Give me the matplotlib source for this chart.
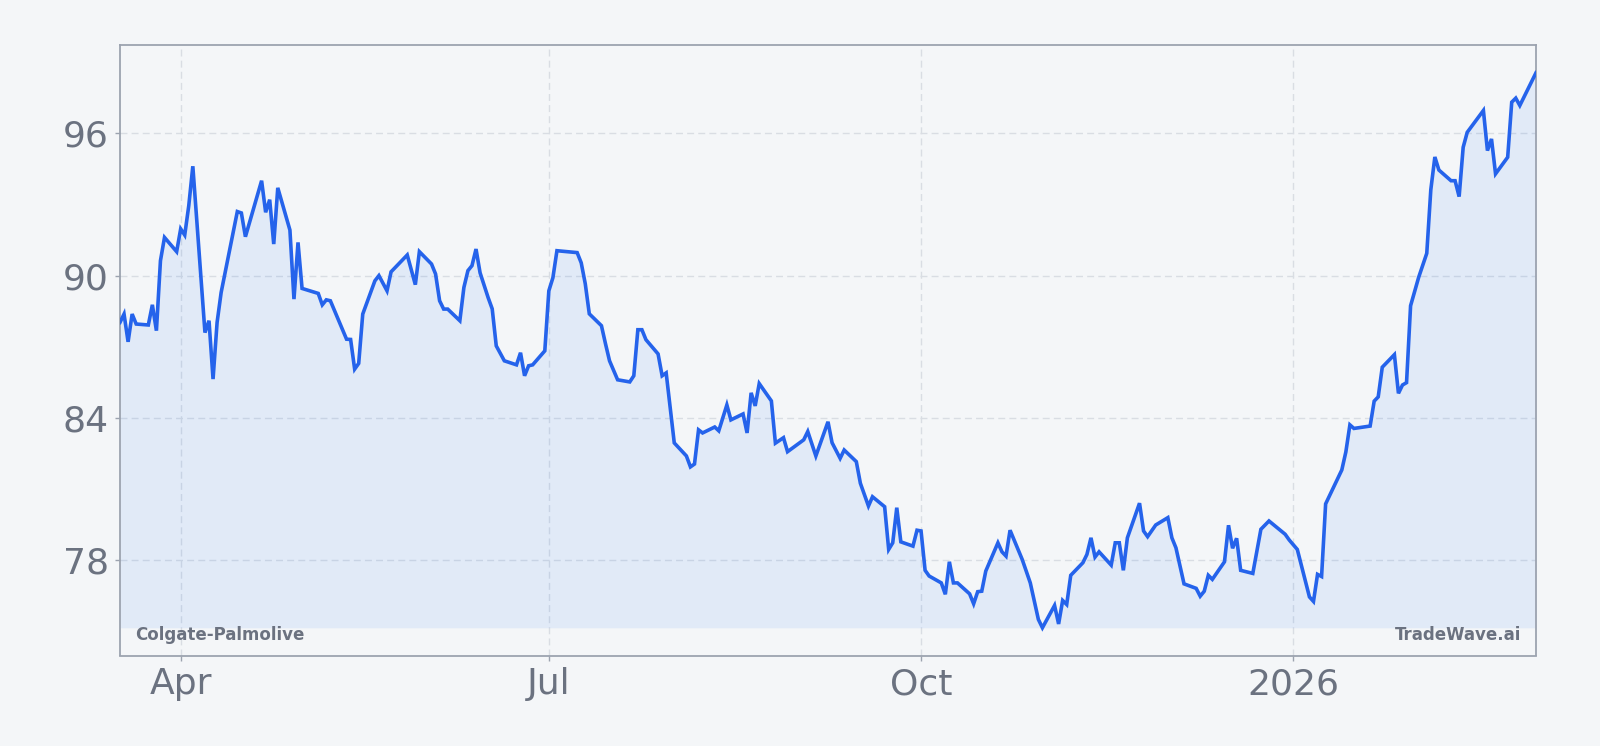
import matplotlib
matplotlib.use("Agg")
import matplotlib.pyplot as plt
import pandas as pd

# ---- data ----
base_date = "2025-04-01"
days_from_base = [
    -15, -14, -13, -12, -11, -8, -7, -6, -5, -4, -1, 0, 1, 2, 3, 6, 7, 8, 9, 10,
    14, 15, 16, 20, 21, 22, 23, 24, 27, 28, 29, 30, 34, 35, 36, 37, 41, 42, 43, 44,
    45, 48, 49, 51, 52, 56, 58, 59, 62, 63, 64, 65, 66, 69, 70, 71, 72, 73, 74, 76,
    77, 78, 80, 83, 84, 85, 86, 87, 90, 91, 92, 93, 98, 99, 100, 101, 104, 105, 106, 108,
    111, 112, 113, 114, 115, 118, 119, 120, 122, 125, 126, 127, 128, 129, 132, 133, 135, 136, 139, 140,
    141, 142, 143, 146, 147, 149, 150, 154, 155, 157, 160, 161, 163, 164, 167, 168, 170, 171, 174, 175,
    176, 177, 178, 181, 182, 183, 184, 185, 188, 189, 190, 191, 192, 195, 196, 197, 198, 199, 202, 203,
    204, 205, 208, 210, 212, 213, 216, 217, 218, 219, 220, 223, 224, 225, 226, 227, 230, 231, 232, 233,
    234, 237, 238, 239, 241, 244, 245, 246, 248, 251, 252, 253, 254, 255, 258, 259, 260, 261, 262, 265,
    267, 269, 273, 274, 276, 279, 280, 281, 282, 283, 287, 288, 289, 290, 294, 295, 296, 297, 300, 301,
    302, 303, 304, 306, 308, 309, 310, 311, 314, 315, 316, 317, 318, 322, 323, 324, 325, 328, 329, 330,
    331, 335,
]
prices = [
    88.03, 88.38, 87.21, 88.38, 87.96, 87.92, 88.77, 87.68, 90.63, 91.61, 91.01, 91.97, 91.71, 92.95, 94.61, 87.60, 88.10, 85.64, 88.03, 89.29,
    92.70, 92.64, 91.64, 94.00, 92.67, 93.20, 91.33, 93.70, 91.92, 89.01, 91.40, 89.46, 89.25, 88.77, 88.98, 88.94, 87.32, 87.31, 86.06, 86.30,
    88.38, 89.78, 90.00, 89.36, 90.16, 90.87, 89.62, 91.01, 90.49, 90.07, 88.94, 88.59, 88.59, 88.10, 89.50, 90.21, 90.42, 91.12, 90.12, 89.07,
    88.60, 87.04, 86.41, 86.24, 86.75, 85.78, 86.20, 86.24, 86.83, 89.36, 89.91, 91.05, 90.97, 90.54, 89.66, 88.39, 87.89, 87.13, 86.41, 85.61,
    85.52, 85.78, 87.72, 87.72, 87.30, 86.70, 85.78, 85.90, 82.95, 82.40, 81.94, 82.06, 83.50, 83.37, 83.62, 83.46, 84.55, 83.92, 84.17, 83.37,
    85.06, 84.51, 85.45, 84.72, 82.94, 83.17, 82.58, 83.08, 83.43, 82.40, 83.84, 82.96, 82.30, 82.65, 82.16, 81.25, 80.29, 80.68, 80.26, 78.46,
    78.74, 80.22, 78.78, 78.60, 79.27, 79.24, 77.58, 77.34, 77.05, 76.57, 77.94, 77.05, 77.05, 76.59, 76.17, 76.68, 76.70, 77.55, 78.74, 78.36,
    78.18, 79.27, 78.04, 77.05, 75.51, 75.16, 76.10, 75.32, 76.31, 76.14, 77.37, 77.90, 78.25, 78.95, 78.14, 78.36, 77.80, 78.74, 78.74, 77.58,
    78.95, 80.41, 79.24, 79.00, 79.49, 79.80, 78.95, 78.53, 77.01, 76.82, 76.49, 76.70, 77.37, 77.20, 77.94, 79.48, 78.51, 78.93, 77.58, 77.45,
    79.31, 79.66, 79.10, 78.86, 78.46, 76.46, 76.27, 77.41, 77.32, 80.38, 81.81, 82.57, 83.71, 83.56, 83.66, 84.71, 84.89, 86.14, 86.67, 85.04,
    85.39, 85.49, 88.73, 89.93, 90.94, 93.62, 95.00, 94.45, 94.00, 94.00, 93.33, 95.41, 96.04, 96.96, 95.27, 95.76, 94.29, 94.99, 97.31, 97.48,
    97.17, 98.55,
]
x_tick_dates = ["2025-04-01", "2025-07-01", "2025-10-01", "2026-01-01"]
x_tick_labels = ["Apr", "Jul", "Oct", "2026"]
y_ticks = [78, 84, 90, 96]
left_note = "Colgate-Palmolive"
right_note = "TradeWave.ai"

# ---- style ----
BG = "#f4f6f8"
LINE = "#2563eb"
FILL = "#3b82f6"
TEXT = "#6b7280"
SPINE = "#9ca3af"
GRID = "#d9dde3"

dates = pd.Timestamp(base_date) + pd.to_timedelta(days_from_base, unit="D")

fig = plt.figure(figsize=(16, 7.46), dpi=100, facecolor=BG)
ax = fig.add_axes([120 / 1600, 1 - 655.5 / 746, (1536 - 120) / 1600, (655.5 - 45) / 746])
ax.set_facecolor(BG)

pmin, pmax = min(prices), max(prices)
ax.fill_between(dates, prices, pmin, color=FILL, alpha=0.1, lw=0, zorder=2)
ax.plot(dates, prices, color=LINE, lw=2.6, zorder=3, solid_joinstyle="miter")

ax.set_xlim(dates[0], dates[-1])
rng = pmax - pmin
ax.set_ylim(pmin - 0.05 * rng, pmax + 0.05 * rng)

ax.set_yticks(y_ticks)
ax.set_xticks(pd.to_datetime(x_tick_dates))
ax.set_xticklabels(x_tick_labels)

ax.grid(True, color=GRID, lw=1.0, linestyle=(0, (5, 3)), zorder=1)
ax.set_axisbelow(True)

for s in ax.spines.values():
    s.set_color(SPINE)
    s.set_linewidth(1.3)

ax.tick_params(axis="both", labelsize=26, labelcolor=TEXT, color=SPINE, length=3.5, width=1)
ax.tick_params(axis="x", pad=5)
ax.tick_params(axis="y", pad=4.5)

ax.text(0.0106, 0.026, left_note, transform=ax.transAxes, fontsize=12,
        fontweight="bold", color=TEXT, ha="left", va="baseline", zorder=4)
ax.text(1 - 0.0106, 0.026, right_note, transform=ax.transAxes, fontsize=12,
        fontweight="bold", color=TEXT, ha="right", va="baseline", zorder=4)

fig.savefig("out.png", dpi=100, facecolor=BG)
